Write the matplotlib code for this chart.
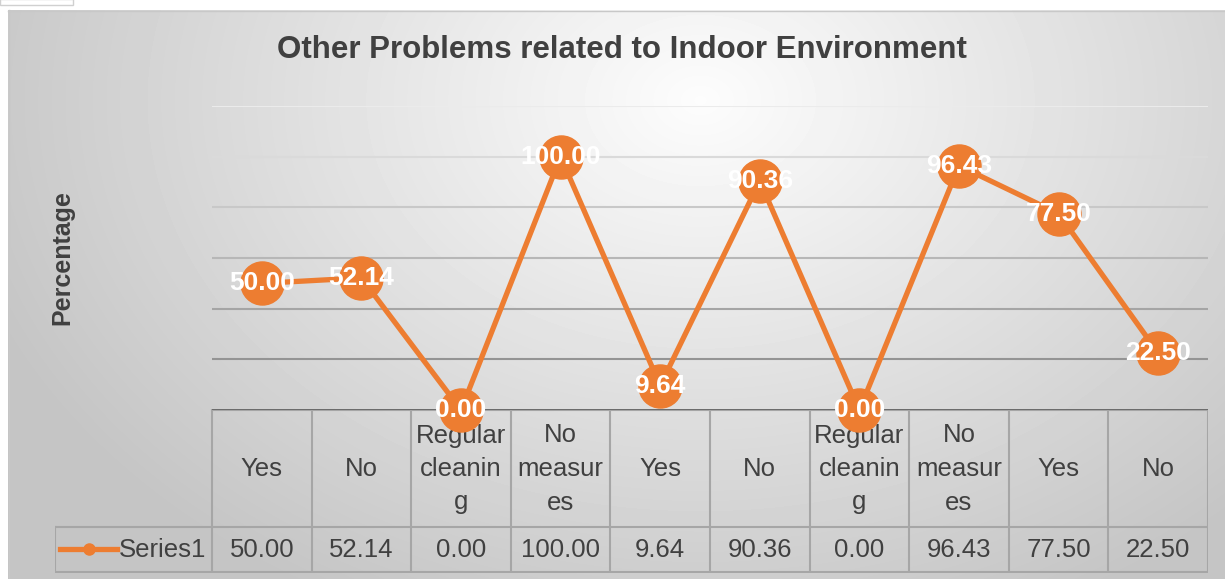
import numpy as np
import matplotlib
matplotlib.use('Agg')
import matplotlib.pyplot as plt
from matplotlib.patches import Rectangle

# data
categories = ["Yes", "No", "Regular\ncleanin\ng", "No\nmeasur\nes", "Yes",
              "No", "Regular\ncleanin\ng", "No\nmeasur\nes", "Yes", "No"]
values = [50.00, 52.14, 0.00, 100.00, 9.64, 90.36, 0.00, 96.43, 77.50, 22.50]
series_name = "Series1"
yticks = [0, 20, 40, 60, 80, 100, 120]

ORANGE = '#ED7D31'
TXT = '#404040'
FONT = 'Liberation Sans'
W, H = 1225, 579

plt.rcParams['font.family'] = [FONT, 'DejaVu Sans']

fig = plt.figure(figsize=(W / 100, H / 100), dpi=100)
fig.patch.set_facecolor('white')

def px_box(x0, y0, x1, y1):
    # pixel box (top-left origin) -> figure fraction
    return [x0 / W, 1 - y1 / H, (x1 - x0) / W, (y1 - y0) / H]

# background gradient
bg = fig.add_axes([0, 0, 1, 1], zorder=-5)
bg.set_xlim(0, W)
bg.set_ylim(H, 0)
bg.axis('off')
xx, yy = np.meshgrid(np.arange(8, W), np.arange(10, H))
d = np.sqrt(((xx - 700) / 700.0) ** 2 + ((yy - 100) / 520.0) ** 2)
shade = 0.99 - 0.2 * np.minimum(d, 1.1)
bg.imshow(shade, cmap='gray', vmin=0, vmax=1, extent=(8, W, H, 10),
          aspect='auto', interpolation='bilinear')
bg.plot([8, W], [10.5, 10.5], color='#c8c8c8', lw=1)
bg.plot([8.5, 8.5], [10, H], color='#c8c8c8', lw=1)
bg.add_patch(Rectangle((0, -1), 73, 6, facecolor='white', edgecolor='#d0d0d0', lw=1))

# main plot
ax = fig.add_axes(px_box(212, 106, 1208, 410))
ax.patch.set_alpha(0)
x = np.arange(len(values))
ax.set_xlim(-0.5, len(values) - 0.5)
ax.set_ylim(yticks[0], yticks[-1])
grid_cols = plt.cm.gray(np.linspace(0.92, 0.58, len(yticks) - 1))
for t, c in zip(yticks[1:], grid_cols[::-1]):
    ax.axhline(t, color=c, lw=1.5, zorder=1)
ax.axhline(0, color='#595959', lw=1.8, zorder=2)
for s in ax.spines.values():
    s.set_visible(False)
ax.set_xticks([])
ax.set_yticks([])

ax.plot(x, values, color=ORANGE, lw=3.8, marker='o', markersize=31,
        zorder=5, clip_on=False)
for xi, v in zip(x, values):
    ax.text(xi, v, f"{v:.2f}", ha='center', va='center', color='white',
            fontsize=19, fontweight='bold', zorder=6, clip_on=False)

fig.text(622 / W, 1 - 50 / H, "Other Problems related to Indoor Environment",
         ha='center', va='center', fontsize=22.5, fontweight='bold', color=TXT)
fig.text(62 / W, 1 - 258 / H, "Percentage", rotation=90, ha='center',
         va='center', fontsize=18, fontweight='bold', color=TXT)

# data table
colw = 996 / len(values)
left_ext = (212 - 55) / colw
tab = fig.add_axes(px_box(55, 409, 1208, 573), zorder=-1)
tab.patch.set_alpha(0)
tab.axis('off')
tab.set_xlim(-0.5 - left_ext, len(values) - 0.5)
tab.set_ylim(164, 0)
gc = '#a6a6a6'
edges = np.arange(len(values) + 1) - 0.5
for e in edges:
    tab.plot([e, e], [0, 163], color=gc, lw=1.5)
tab.plot([-0.5, len(values) - 0.5], [1, 1], color=gc, lw=1.5)
for yl in (118, 163):
    tab.plot([-0.5 - left_ext, len(values) - 0.5], [yl, yl], color=gc, lw=1.5)
tab.plot([-0.5 - left_ext + 0.005] * 2, [118, 163], color=gc, lw=1.5)

for xi, lab, v in zip(x, categories, values):
    tab.text(xi, 60, lab, ha='center', va='center', fontsize=18.5,
             color=TXT, linespacing=1.5)
    tab.text(xi, 141, f"{v:.2f}", ha='center', va='center', fontsize=18.5,
             color=TXT)

lx0 = -0.5 - left_ext + 5 / colw
lx1 = lx0 + 57 / colw
tab.plot([lx0, lx1], [140, 140], color=ORANGE, lw=3.8)
tab.plot([(lx0 + lx1) / 2], [140], 'o', color=ORANGE, markersize=8)
tab.text(-0.5 - 6 / colw, 141, series_name, ha='right', va='center',
         fontsize=18.5, color=TXT)

fig.savefig('out.png', dpi=100)
